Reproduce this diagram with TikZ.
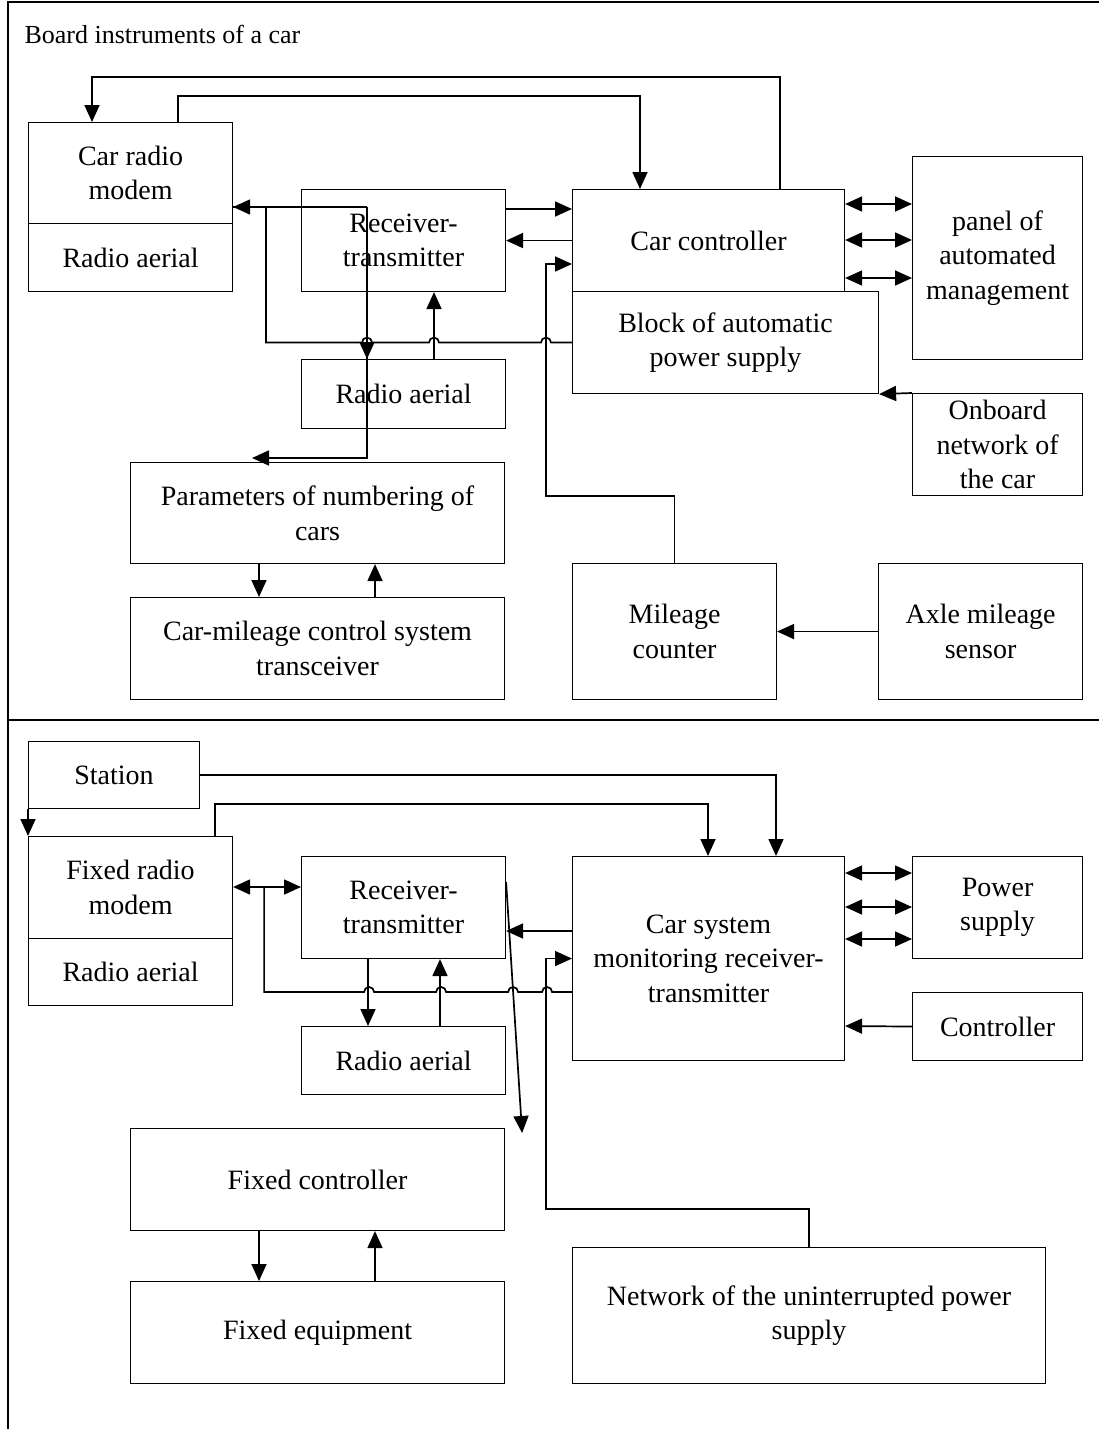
\documentclass[tikz,border=0pt]{standalone}
\usepackage{fontspec}
\setmainfont{Liberation Serif}
\usetikzlibrary{arrows.meta,calc}

\begin{document}
\begin{tikzpicture}[x=1pt,y=-1pt,
    box/.style={draw, line width=1.1pt, anchor=north west, align=center,
      inner sep=0pt, font=\fontsize{28}{34.5}\selectfont},
    link/.style={line width=1.7pt},
    arr/.style={link, -{Triangle[length=17pt,width=15pt]}},
    dbl/.style={link, {Triangle[length=17pt,width=15pt]}-{Triangle[length=17pt,width=15pt]}},
    frame/.style={line width=2.5pt}]
  \useasboundingbox (0,0) rectangle (1099,1429);

  % frame of the two parts
  \draw[frame] (8,1429) -- (8,2) -- (1099,2);
  \draw[frame] (8,720) -- (1099,720);
  \node[anchor=base west, font=\fontsize{26}{31}\selectfont] (ttl) at (21,44) {Board instruments of a car};

  % board instruments
  \node[box, minimum width=204pt, minimum height=101pt] (crm) at (28,122) {Car radio\\modem};
  \node[box, minimum width=204pt, minimum height=68pt] (crmant) at (28,223) {Radio aerial};
  \node[box, minimum width=204pt, minimum height=102pt] (rt1) at (301,189) {Receiver-\\transmitter};
  \node[box, minimum width=272pt, minimum height=102pt] (ctrl) at (572,189) {Car controller};
  \node[box, minimum width=306pt, minimum height=102pt] (bps) at (572,291) {Block of automatic\\power supply};
  \node[box, minimum width=170pt, minimum height=203pt] (pam) at (912,156) {panel of\\automated\\management};
  \node[box, minimum width=170pt, minimum height=102pt] (onb) at (912,393) {Onboard\\network of\\the car};
  \node[box, minimum width=204pt, minimum height=69pt] (ant1) at (301,359) {Radio aerial};
  \node[box, minimum width=374pt, minimum height=101pt] (pnc) at (130,462) {Parameters of numbering of\\cars};
  \node[box, minimum width=374pt, minimum height=102pt] (cmt) at (130,597) {Car-mileage control system\\transceiver};
  \node[box, minimum width=204pt, minimum height=136pt] (mlc) at (572,563) {Mileage\\counter};
  \node[box, minimum width=204pt, minimum height=136pt] (axl) at (878,563) {Axle mileage\\sensor};
  \coordinate (j1) at ([xshift=66,yshift=-18]rt1.north west);

  \draw[arr] ([xshift=208]ctrl.north west) -- ++(0,-112) -| ([xshift=64]crm.north west);
  \draw[arr] ([xshift=150]crm.north west) -- ++(0,-26) -| ([xshift=68]ctrl.north west);
  \draw[arr] ([yshift=-20]rt1.north east) -- ([yshift=-20]ctrl.north west);
  \draw[arr] (ctrl.west) -- (rt1.east);
  \draw[arr] (mlc.north) -- ++(0,-67) -| ([xshift=-26,yshift=-75]ctrl.north west) -- ([yshift=-75]ctrl.north west);
  \draw[arr] (bps.west) -- ++(-21,0) arc[start angle=0,end angle=-180,radius=5]
    -- ++(-102,0) arc[start angle=0,end angle=-180,radius=5]
    -- ++(-57,0) arc[start angle=0,end angle=-180,radius=5]
    -- ++(-96,0) |- ([yshift=-85]crm.north east);
  \draw[link] ([yshift=-85]crm.north east) -- (j1);
  \draw[arr] (j1) -- ([xshift=66]ant1.north west);
  \draw[arr] (j1) |- ([xshift=122,yshift=4]pnc.north west);
  \draw[arr] ([xshift=133]ant1.north west) -- ([xshift=133]rt1.south west);
  \foreach \dy in {15,51,89}
    \draw[dbl] ([yshift=-\dy]ctrl.north east) -- ([yshift=-\dy-33]pam.north west);
  \draw[arr] (onb.north west) -- (bps.south east);
  \draw[arr] ([xshift=129]pnc.south west) -- ([xshift=129]cmt.north west);
  \draw[arr] ([xshift=245]cmt.north west) -- ([xshift=245]pnc.south west);
  \draw[arr] (axl.west) -- (mlc.east);

  % station part
  \node[box, minimum width=171pt, minimum height=67pt] (stn) at (28,741) {Station};
  \node[box, minimum width=204pt, minimum height=102pt] (frm) at (28,836) {Fixed radio\\modem};
  \node[box, minimum width=204pt, minimum height=67pt] (frmant) at (28,938) {Radio aerial};
  \node[box, minimum width=204pt, minimum height=102pt] (rt2) at (301,856) {Receiver-\\transmitter};
  \node[box, minimum width=204pt, minimum height=68pt] (ant2) at (301,1026) {Radio aerial};
  \node[box, minimum width=272pt, minimum height=204pt] (csm) at (572,856) {Car system\\monitoring receiver-\\transmitter};
  \node[box, minimum width=170pt, minimum height=102pt] (psu) at (912,856) {Power\\supply};
  \node[box, minimum width=170pt, minimum height=68pt] (ctl) at (912,992) {Controller};
  \node[box, minimum width=374pt, minimum height=102pt] (fct) at (130,1128) {Fixed controller};
  \node[box, minimum width=374pt, minimum height=102pt] (feq) at (130,1281) {Fixed equipment};
  \node[box, minimum width=473pt, minimum height=136pt] (ups) at (572,1247) {Network of the uninterrupted power\\supply};
  \coordinate (dg) at ([xshift=17,yshift=-5]fct.north east);

  \draw[arr] (stn.east) -| ([xshift=204]csm.north west);
  \draw[arr] (stn.south west) -- (frm.north west);
  \draw[arr] ([xshift=187]frm.north west) -- ++(0,-32) -| ([xshift=136]csm.north west);
  \draw[dbl] ([yshift=-51]frm.north east) -- ([yshift=-31]rt2.north west);
  \draw[link] ([xshift=31,yshift=-51]frm.north east) -- ++(0,105)
    -- ++(100,0) arc[start angle=180,end angle=360,radius=5]
    -- ++(62,0) arc[start angle=180,end angle=360,radius=5]
    -- ++(62,0) arc[start angle=180,end angle=360,radius=5]
    -- ++(24,0) arc[start angle=180,end angle=360,radius=5]
    -- ([yshift=-136]csm.north west);
  \draw[arr] ([yshift=-26]rt2.north east) -- (dg);
  \draw[arr] ([yshift=-75]csm.north west) -- ([yshift=-75]rt2.north east);
  \draw[arr] ([xshift=67]rt2.south west) -- ([xshift=67]ant2.north west);
  \draw[arr] ([xshift=139]ant2.north west) -- ([xshift=139]rt2.south west);
  \draw[arr] (ups.north) -- ++(0,-38) -| ([xshift=-26]csm.west) -- (csm.west);
  \foreach \dy in {17,51,83}
    \draw[dbl] ([yshift=-\dy]csm.north east) -- ([yshift=-\dy]psu.north west);
  \draw[arr] (ctl.west) -- ([yshift=-170]csm.north east);
  \draw[arr] ([xshift=129]fct.south west) -- ([xshift=129]feq.north west);
  \draw[arr] ([xshift=245]feq.north west) -- ([xshift=245]fct.south west);
\end{tikzpicture}
\end{document}
